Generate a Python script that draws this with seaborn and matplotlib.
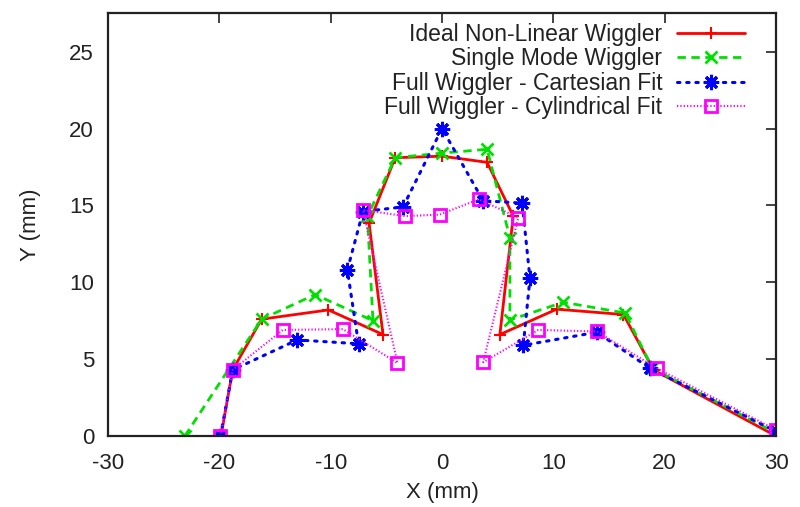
import matplotlib
matplotlib.use("Agg")
import matplotlib.pyplot as plt
import matplotlib.colors as mcolors
from matplotlib.markers import MarkerStyle
import seaborn as sns
import numpy as np

sns.set_theme(style="white")
plt.rcParams['font.family'] = ['Liberation Sans', 'DejaVu Sans']
plt.rcParams['axes.unicode_minus'] = False

# Data (mm)
ideal_x = [-19.85, -18.8, -16.2, -10.2, -5.3, -6.55, -4.2, 0.0, 4.05, 6.4, 5.2, 10.3, 16.3, 19.0, 30.0]
ideal_y = [0.0, 4.3, 7.6, 8.2, 6.6, 13.85, 18.1, 18.2, 17.8, 14.3, 6.6, 8.25, 7.9, 4.3, 0.0]

single_x = [-23.1, -16.2, -11.4, -6.2, -6.7, -4.2, 0.0, 4.05, 6.1, 6.1, 10.9, 16.45, 18.9, 30.0]
single_y = [0.0, 7.6, 9.2, 7.5, 14.3, 18.1, 18.4, 18.65, 12.9, 7.55, 8.7, 8.0, 4.4, 0.2]

cart_x = [-19.9, -18.8, -13.0, -7.5, -8.5, -7.1, -3.5, 0.0, 3.7, 7.2, 7.9, 7.3, 13.9, 18.7, 30.0]
cart_y = [0.0, 4.3, 6.25, 6.0, 10.8, 14.6, 14.9, 20.0, 15.3, 15.15, 10.25, 5.9, 6.75, 4.4, 0.3]

cyl_x = [-19.9, -18.8, -14.3, -8.9, -4.0, -7.1, -3.3, -0.2, 3.3, 6.85, 3.7, 8.65, 13.9, 19.3, 30.0]
cyl_y = [0.0, 4.3, 6.9, 6.95, 4.75, 14.7, 14.3, 14.4, 15.4, 14.2, 4.8, 6.9, 6.8, 4.4, 0.4]

labels = ["Ideal Non-Linear Wiggler", "Single Mode Wiggler",
          "Full Wiggler - Cartesian Fit", "Full Wiggler - Cylindrical Fit"]
x_ticks = [-30, -20, -10, 0, 10, 20, 30]
y_ticks = [0, 5, 10, 15, 20, 25]

fig = plt.figure(figsize=(8, 5.07), dpi=100)
ax = fig.add_axes([0.135, 0.140, 0.835, 0.834])

sns.lineplot(x=ideal_x, y=ideal_y, sort=False, estimator=None, ax=ax, color="#ff0000",
             linewidth=2, linestyle="-", marker="+", markersize=8, markeredgewidth=1.5,
             markeredgecolor="#ff0000", label=labels[0])
sns.lineplot(x=single_x, y=single_y, sort=False, estimator=None, ax=ax, color="#00e000",
             linewidth=2, linestyle=(0, (3, 2)), marker="x", markersize=8, markeredgewidth=2,
             markeredgecolor="#00e000", label=labels[1])
sns.lineplot(x=cart_x, y=cart_y, sort=False, estimator=None, ax=ax, color="#0000ff",
             linewidth=2.2, linestyle=(0, (0.8, 2.2)), dash_capstyle="round", marker="+",
             markersize=10, markeredgewidth=2, markeredgecolor="#0000ff", label=labels[2])
sns.lineplot(x=cyl_x, y=cyl_y, sort=False, estimator=None, ax=ax, color="#ff00ff",
             linewidth=1.5, linestyle=(0, (0.6, 1.0)), marker="s", markersize=9,
             markerfacecolor="none", markeredgewidth=2, markeredgecolor="#ff00ff", label=labels[3])

for ln in ax.lines:
    if mcolors.to_hex(ln.get_color()) == "#0000ff":
        ln.set_marker(MarkerStyle((8, 2, 0), capstyle="butt", joinstyle="miter"))
        ln.set_markeredgewidth(2.2)
        ln.set_markersize(11)

ax.set_xlim(-30, 30)
ax.set_ylim(0, 27.5)
ax.set_xticks(x_ticks)
ax.set_yticks(y_ticks)
ax.tick_params(direction="in", length=7, width=1.2, top=True, right=True,
               labelsize=16, colors="#222222")
ax.tick_params(axis="x", pad=12)
ax.tick_params(axis="y", pad=10)
for s in ax.spines.values():
    s.set_color("#222222")
    s.set_linewidth(1.6)
ax.set_xlabel("X (mm)", fontsize=16, color="#222222", labelpad=6)
ax.set_ylabel("Y (mm)", fontsize=16, color="#222222", labelpad=20)

leg = ax.legend(loc="upper right", bbox_to_anchor=(0.9536, 0.976), frameon=False,
                markerfirst=False, fontsize=16.5, handlelength=2.95, handletextpad=0.66,
                labelspacing=0.05, borderaxespad=0, borderpad=0)
for t in leg.get_texts():
    t.set_color("#222222")

fig.savefig("out.png", dpi=100)
